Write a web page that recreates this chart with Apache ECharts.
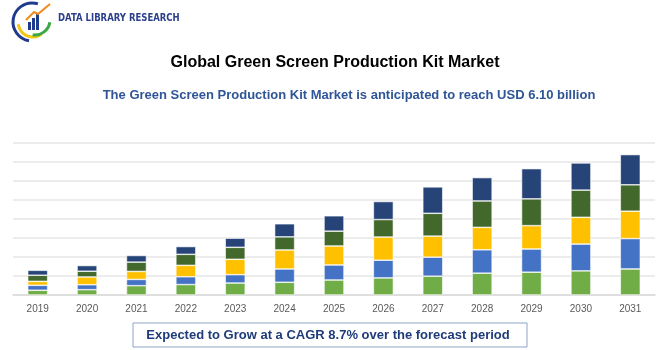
<!DOCTYPE html>
<html>
<head>
	<meta charset="utf-8">
	<title>Green Screen Production Kit Market</title>
	<script type="text/javascript" src="https://cdn.jsdelivr.net/npm/echarts@6/dist/echarts.min.js"></script>
	<style type="text/css">
		body{ margin:0; background:#fff; }
		#chart{ width:670px; height:350px; }
	</style>
</head>
<body>
<div id="chart"></div>
<script type="text/javascript">
	// years on the x axis
	var years = ['2019','2020','2021','2022','2023','2024','2025','2026','2027','2028','2029','2030','2031'];
	// stacked segments, bottom to top (gridline = 1)
	var seg1 = [0.25,0.28,0.49,0.55,0.63,0.67,0.79,0.90,0.99,1.15,1.20,1.27,1.37];
	var seg2 = [0.26,0.26,0.33,0.41,0.44,0.70,0.79,0.93,1.00,1.23,1.22,1.41,1.60];
	var seg3 = [0.21,0.41,0.42,0.60,0.81,1.00,1.00,1.22,1.11,1.18,1.23,1.41,1.44];
	var seg4 = [0.32,0.30,0.49,0.58,0.63,0.69,0.78,0.92,1.20,1.39,1.41,1.43,1.39];
	var seg5 = [0.26,0.30,0.35,0.41,0.48,0.69,0.81,0.95,1.39,1.23,1.59,1.43,1.59];
	var segColors = ['#70ad47','#4472c4','#ffc000','#43682b','#264478'];

	var font = '"Liberation Sans", Arial, sans-serif';
	var chart = echarts.init(document.getElementById('chart'));

	var series = [seg1,seg2,seg3,seg4,seg5].map(function(d,i){
		return {
			type:'bar',
			stack:'all',
			data:d,
			barWidth:20,
			itemStyle:{ color:segColors[i], borderColor:'#fff', borderWidth:0.6 },
			emphasis:{ disabled:true }
		};
	});

	var option = {
		animation:false,
		title:[{
			text:'Global Green Screen Production Kit Market',
			left:'center', top:50,
			textStyle:{ fontFamily:font, fontSize:16, fontWeight:'bold', color:'#000' }
		}],
		grid:{ left:13, right:15, top:143, bottom:55 },
		xAxis:{
			type:'category',
			data:years,
			axisLine:{ lineStyle:{ color:'#d9d9d9', width:1.5 } },
			axisTick:{ show:false },
			axisLabel:{ color:'#595959', fontFamily:font, fontSize:10, margin:9 }
		},
		yAxis:{
			type:'value',
			min:0, max:8, interval:1,
			axisLabel:{ show:false },
			axisLine:{ show:false },
			axisTick:{ show:false },
			splitLine:{ lineStyle:{ color:'#e6e6e6', width:1.5 } }
		},
		series:series,
		graphic:[
			// logo emblem
			{ type:'arc', shape:{ cx:32, cy:22, r:19, startAngle:Math.PI*0.55, endAngle:Math.PI*1.6 }, style:{ stroke:'#1f3b8c', lineWidth:3, fill:null } },
			{ type:'arc', shape:{ cx:33, cy:22, r:15, startAngle:Math.PI*0.3, endAngle:Math.PI*0.95 }, style:{ stroke:'#f2c811', lineWidth:3, fill:null } },
			{ type:'arc', shape:{ cx:35, cy:20, r:15, startAngle:Math.PI*0.05, endAngle:Math.PI*0.55 }, style:{ stroke:'#3aa845', lineWidth:3, fill:null } },
			{ type:'rect', shape:{ x:28, y:22, width:3, height:8 }, style:{ fill:'#1f3b8c' } },
			{ type:'rect', shape:{ x:32, y:18, width:3, height:12 }, style:{ fill:'#1f3b8c' } },
			{ type:'rect', shape:{ x:36, y:14, width:3, height:16 }, style:{ fill:'#1f3b8c' } },
			{ type:'polyline', shape:{ points:[[26,20],[34,12],[38,14],[50,4]] }, style:{ stroke:'#f08c1e', lineWidth:2, fill:null } },
			{ type:'text', left:58, top:13, style:{ text:'DATA LIBRARY RESEARCH', fill:'#2b3f8c', font:'bold 11px "DejaVu Sans Condensed", "Liberation Sans Narrow", sans-serif' }, scaleX:0.86 },
			// subtitle
			{ type:'text', x:349, y:95, style:{ text:'The Green Screen Production Kit Market is anticipated to reach USD 6.10 billion', fill:'#2f5597', font:'bold 13px "Liberation Sans", Arial, sans-serif', align:'center', verticalAlign:'middle' } },
			// bottom box
			{ type:'rect', shape:{ x:133, y:323, width:394, height:24 }, style:{ fill:'#fff', stroke:'#8ea3c8', lineWidth:1 } },
			{ type:'text', x:328, y:335, style:{ text:'Expected to Grow at a CAGR 8.7% over the forecast period', fill:'#1f3b7a', font:'bold 13px "Liberation Sans", Arial, sans-serif', align:'center', verticalAlign:'middle' } }
		]
	};
	chart.setOption(option);
</script>
</body>
</html>
